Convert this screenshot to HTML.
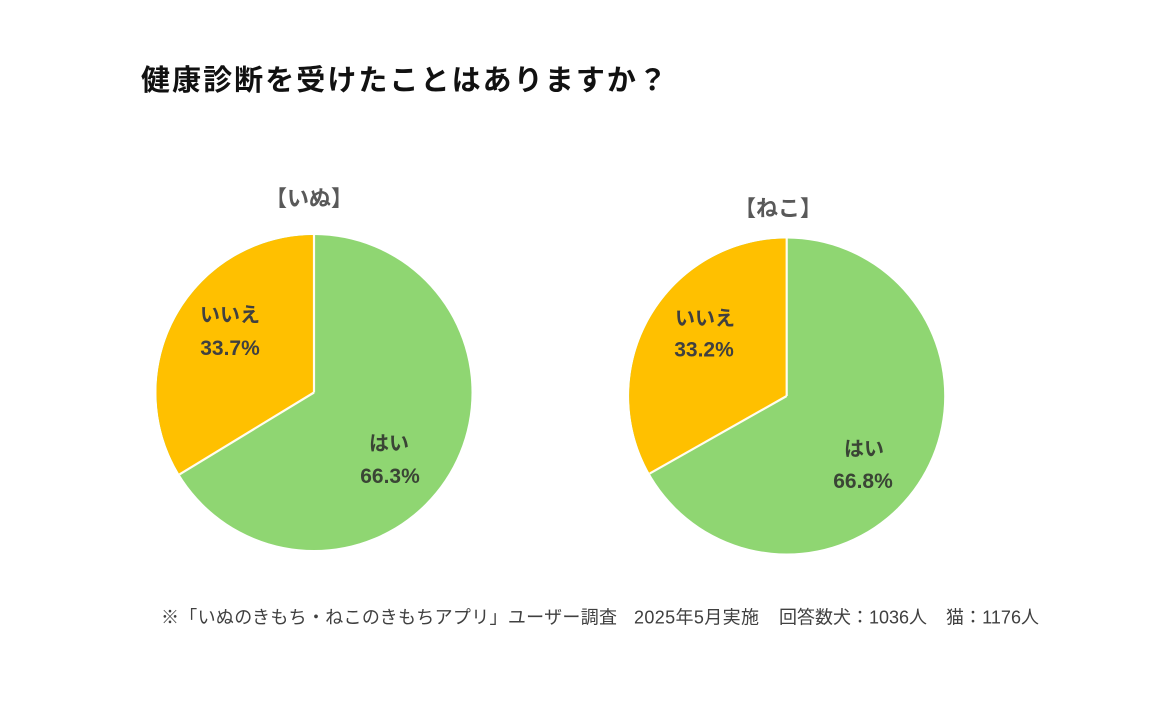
<!DOCTYPE html>
<html lang="ja">
<head>
<meta charset="utf-8">
<style>
  html, body { margin:0; padding:0; background:#ffffff; }
  body { width:1159px; height:709px; overflow:hidden; }
  svg { display:block; }
  .t { font-family:"Liberation Sans","Noto Sans CJK JP",sans-serif; }
</style>
</head>
<body>
<svg width="1159" height="709" viewBox="0 0 1159 709" xmlns="http://www.w3.org/2000/svg">
  <rect x="0" y="0" width="1159" height="709" fill="#ffffff"/>

  <!-- Title -->
  <text class="t" x="141" y="90" font-size="29" font-weight="700" fill="#111111" textLength="526" lengthAdjust="spacing">健康診断を受けたことはありますか？</text>

  <!-- Sub headings -->
  <text class="t" x="309" y="206" font-size="22" font-weight="700" fill="#595959" text-anchor="middle">【いぬ】</text>
  <text class="t" x="778" y="216" font-size="22" font-weight="700" fill="#595959" text-anchor="middle">【ねこ】</text>

  <!-- Pie 1 (dog) -->
  <circle cx="314" cy="392.5" r="157.5" fill="#8FD672"/>
  <path d="M314,392.5 L314,235 A157.5,157.5 0 0 0 179.45,474.39 Z" fill="#FFC000"/>
  <line x1="314" y1="392.5" x2="314" y2="235" stroke="#FFFDF0" stroke-width="2.2"/>
  <line x1="314" y1="392.5" x2="179.45" y2="474.39" stroke="#FFFDF0" stroke-width="2.2"/>

  <!-- Pie 2 (cat) -->
  <circle cx="786.7" cy="396" r="157.5" fill="#8FD672"/>
  <path d="M786.7,396 L786.7,238.5 A157.5,157.5 0 0 0 649.62,473.6 Z" fill="#FFC000"/>
  <line x1="786.7" y1="396" x2="786.7" y2="238.5" stroke="#FFFDF0" stroke-width="2.2"/>
  <line x1="786.7" y1="396" x2="649.62" y2="473.6" stroke="#FFFDF0" stroke-width="2.2"/>

  <!-- Pie 1 labels -->
  <text class="t" x="230" y="321.6" font-size="20" font-weight="700" fill="#404040" text-anchor="middle">いいえ</text>
  <text class="t" x="230" y="355" font-size="21" font-weight="700" fill="#404040" text-anchor="middle">33.7%</text>
  <text class="t" x="389" y="450" font-size="20" font-weight="700" fill="#3a4535" text-anchor="middle">はい</text>
  <text class="t" x="390" y="483" font-size="21" font-weight="700" fill="#3a4535" text-anchor="middle">66.3%</text>

  <!-- Pie 2 labels -->
  <text class="t" x="705" y="325" font-size="20" font-weight="700" fill="#404040" text-anchor="middle">いいえ</text>
  <text class="t" x="704" y="356.5" font-size="21" font-weight="700" fill="#404040" text-anchor="middle">33.2%</text>
  <text class="t" x="864" y="455.5" font-size="20" font-weight="700" fill="#3a4535" text-anchor="middle">はい</text>
  <text class="t" x="863" y="488" font-size="21" font-weight="700" fill="#3a4535" text-anchor="middle">66.8%</text>

  <!-- Footnote -->
  <text class="t" x="161" y="623.5" font-size="18" font-weight="400" fill="#404040" textLength="456" lengthAdjust="spacing">※「いぬのきもち・ねこのきもちアプリ」ユーザー調査</text>
  <text class="t" x="634" y="623.5" font-size="18" font-weight="400" fill="#404040" textLength="125" lengthAdjust="spacing">2025年5月実施</text>
  <text class="t" x="779" y="623.5" font-size="18" font-weight="400" fill="#404040" textLength="148" lengthAdjust="spacing">回答数犬：1036人</text>
  <text class="t" x="946" y="623.5" font-size="18" font-weight="400" fill="#404040" textLength="93" lengthAdjust="spacing">猫：1176人</text>
</svg>
</body>
</html>
